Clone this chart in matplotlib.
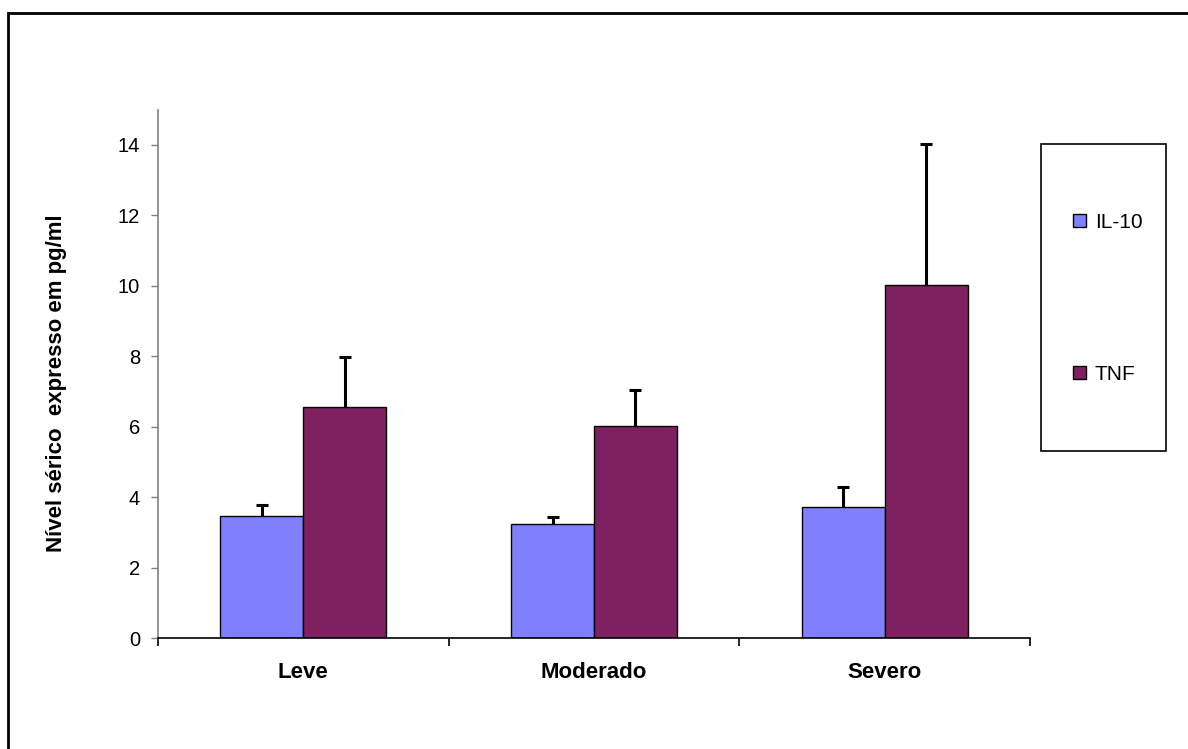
import numpy as np
import matplotlib
matplotlib.use("Agg")
import matplotlib.pyplot as plt
from matplotlib.patches import Patch, Rectangle

plt.rcParams["font.family"] = ["Liberation Sans", "DejaVu Sans"]

categories = ["Leve", "Moderado", "Severo"]
series = ["IL-10", "TNF"]
il10 = [3.48, 3.24, 3.73]
il10_err = [0.30, 0.19, 0.56]
tnf = [6.57, 6.03, 10.02]
tnf_err = [1.42, 1.01, 3.99]
yticks = [0, 2, 4, 6, 8, 10, 12, 14]
ylabel = "Nível sérico  expresso em pg/ml"

colors = ["#8080ff", "#7f2060"]

fig = plt.figure(figsize=(11.88, 7.49), dpi=100)
ax = fig.add_axes([158 / 1188, 1 - 638.3 / 749, 872 / 1188, 528.75 / 749])

x = np.arange(len(categories))
w = 0.2855
err_kw = dict(ecolor="black", elinewidth=2.2, capsize=4.4, capthick=2.2, zorder=1)
bars = []
bars.append(ax.bar(x - w / 2, il10, w, color=colors[0], edgecolor="black", linewidth=1.0,
                   yerr=[np.zeros(3), il10_err], error_kw=err_kw, zorder=2))
bars.append(ax.bar(x + w / 2, tnf, w, color=colors[1], edgecolor="black", linewidth=1.0,
                   yerr=[np.zeros(3), tnf_err], error_kw=err_kw, zorder=2))
# only the upper caps are wanted
for b in bars:
    caps = b.errorbar.lines[1]
    caps[0].set_visible(False)

ax.set_xlim(-0.5, len(categories) - 0.5)
ax.set_ylim(0, 15)
ax.set_yticks(yticks)
ax.tick_params(axis="y", labelsize=14.5, length=5, width=1, color="#808080", pad=8)

# boundary ticks without labels, category names on minor ticks
ax.set_xticks(np.arange(len(categories) + 1) - 0.5)
ax.set_xticklabels([])
ax.tick_params(axis="x", which="major", length=6, width=1.2, color="black")
ax.set_xticks(x, minor=True)
ax.set_xticklabels(categories, minor=True, fontsize=16, fontweight="bold")
ax.tick_params(axis="x", which="minor", length=0, pad=17)

for s in ["top", "right"]:
    ax.spines[s].set_visible(False)
ax.spines["left"].set_color("#808080")
ax.spines["left"].set_linewidth(1.2)
ax.spines["bottom"].set_color("black")
ax.spines["bottom"].set_linewidth(1.2)

fig.text(57 / 1188, 1 - 383 / 749, ylabel, rotation=90, ha="center", va="center",
         fontsize=16, fontweight="bold")

# legend box
fig.patches.append(Rectangle((1041 / 1188, 1 - 451 / 749), 125 / 1188, 307 / 749,
                             transform=fig.transFigure, fill=False,
                             edgecolor="black", linewidth=1.2))
handles = [Patch(facecolor=c, edgecolor="black", linewidth=1.0) for c in colors]
fig.legend(handles, series, loc="center left", bbox_to_anchor=(1073 / 1188, 1 - 298.5 / 749),
           frameon=False, fontsize=15, handlelength=0.6, handleheight=0.6,
           handletextpad=0.45, labelspacing=6.4, borderpad=0, borderaxespad=0)

# outer chart border (right/bottom edges fall outside the image)
fig.patches.append(Rectangle((8 / 1188, -0.1), 1.2, 1.1 - 13 / 749,
                             transform=fig.transFigure, fill=False,
                             edgecolor="black", linewidth=2))

fig.savefig("out.png", dpi=100)
